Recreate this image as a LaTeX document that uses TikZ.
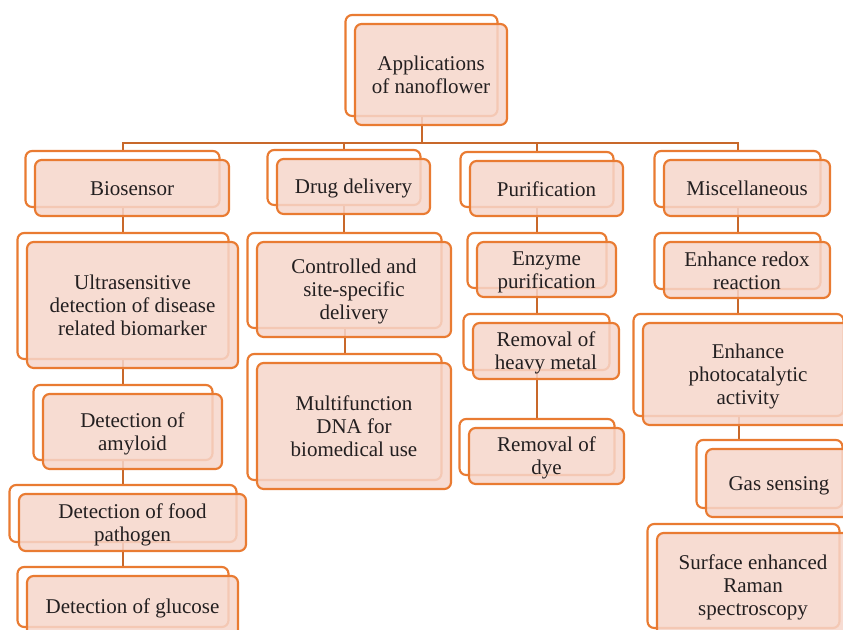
\documentclass[tikz,border=0pt]{standalone}
\usepackage{fontspec}
\setmainfont{Liberation Serif}
\usetikzlibrary{calc,backgrounds}
\definecolor{bord}{RGB}{233,123,50}
\definecolor{pinkf}{RGB}{246,214,203}
\definecolor{conn}{RGB}{200,104,42}
\definecolor{txt}{RGB}{35,31,32}
\newcommand\topstrut{\rule{0pt}{14.3pt}}
\newcommand\botstrut{\rule[-2.9pt]{0pt}{2.9pt}}
\tikzset{
 backbox/.style={draw=bord, line width=1.6pt, rounded corners=5pt, fill=white, inner sep=0pt},
 frontbox/.style={draw=bord, line width=1.6pt, rounded corners=5pt, fill=pinkf, fill opacity=0.85, text opacity=1, text=txt, align=center, inner sep=0pt, font=\fontsize{15.75}{17.25}\selectfont},
 link/.style={draw=conn, line width=1.5pt}
}
\newcommand\dbox[6]{%
 \node[backbox, minimum width={#4*0.75pt}, minimum height={#5*0.75pt}] (#1b) at ($(#2,#3)+(-9.5,-9)$) {};
 \node[frontbox, minimum width={#4*0.75pt}, minimum height={#5*0.75pt}] (#1) at (#2,#3) {\topstrut #6\botstrut};}
\begin{document}
\begin{tikzpicture}[x=0.75pt,y=-0.75pt]
\useasboundingbox (0,0) rectangle (843,630);
\clip (0,0) rectangle (843,630);
\dbox{root}{431}{74.5}{152}{101}{Applications\\of nanoflower}
\dbox{bio}{132}{188}{194}{56}{Biosensor}
\dbox{ultra}{132.5}{305}{211}{126}{Ultrasensitive\\detection of disease\\related biomarker}
\dbox{amy}{132.5}{431.5}{179}{75}{Detection of\\amyloid}
\dbox{food}{132.5}{522.5}{227}{57}{Detection of food\\pathogen}
\dbox{gluc}{132.5}{606}{211}{60}{Detection of glucose}
\dbox{drug}{353.5}{186.5}{153}{55}{Drug delivery}
\dbox{ctrl}{354}{289.5}{194}{95}{Controlled and\\site-specific\\delivery}
\dbox{multi}{354}{426}{194}{126}{Multifunction\\DNA for\\biomedical use}
\dbox{puri}{546.5}{188.5}{153}{55}{Purification}
\dbox{enz}{546.5}{269.5}{139}{55}{Enzyme\\purification}
\dbox{heavy}{546}{351}{146}{56}{Removal of\\heavy metal}
\dbox{dye}{546.5}{456}{155}{56}{Removal of\\dye}
\dbox{misc}{747}{188}{166}{56}{Miscellaneous}
\dbox{redox}{747}{270}{166}{56}{Enhance redox\\reaction}
\dbox{photo}{748}{374}{210}{102}{Enhance\\photocatalytic\\activity}
\dbox{gas}{779}{483}{146}{68}{Gas sensing}
\dbox{surf}{753}{585}{192}{104}{Surface enhanced\\Raman\\spectroscopy}
\begin{scope}[on background layer]
\draw[link] (rootb.south) -- ++(0,26) coordinate (bus);
\draw[link] (biob.north) |- (bus) -| (miscb.north);
\draw[link] (drugb.north) -- (drugb.north |- bus);
\draw[link] (purib.north) -- (purib.north |- bus);
\draw[link] (biob.south) -- (biob.south |- ultrab.north);
\draw[link] (ultrab.south) -- (ultrab.south |- amyb.north);
\draw[link] (amyb.south) -- (amyb.south |- foodb.north);
\draw[link] (foodb.south) -- (foodb.south |- glucb.north);
\draw[link] (drugb.south) -- (drugb.south |- ctrlb.north);
\draw[link] (ctrlb.south) -- (ctrlb.south |- multib.north);
\draw[link] (purib.south) -- (purib.south |- enzb.north);
\draw[link] (enzb.south) -- (enzb.south |- heavyb.north);
\draw[link] (heavyb.south) -- (heavyb.south |- dyeb.north);
\draw[link] (miscb.south) -- (miscb.south |- redoxb.north);
\draw[link] (redoxb.south) -- (redoxb.south |- photob.north);
\draw[link] (photob.south) -- (photob.south |- gasb.north);
\draw[link] ($(gasb.south)+(-24.5,0)$) -- ($(gasb.south)+(-24.5,0)$ |- surfb.north);
\draw[link] ($(gasb.south)+(-11.5,0)$) -- ($(gasb.south)+(-11.5,0)$ |- surfb.north);
\end{scope}
\end{tikzpicture}
\end{document}
